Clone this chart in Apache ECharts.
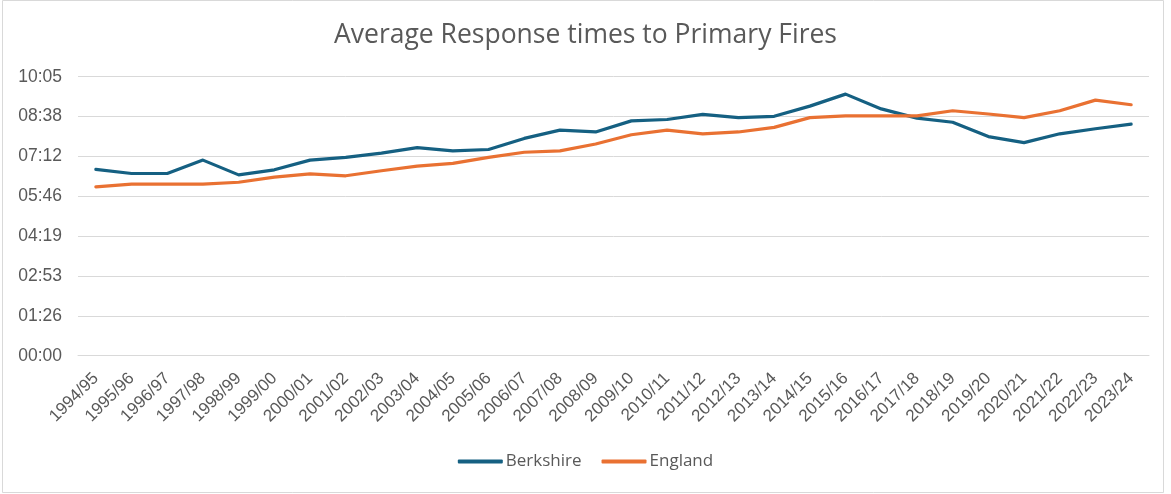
<!DOCTYPE html>
<html>
<head>
<meta charset="utf-8">
<script src="https://cdn.jsdelivr.net/npm/echarts@6/dist/echarts.min.js"></script>
<style>
html,body{margin:0;padding:0;background:#fff;}
#chart{width:1171px;height:494px;}
</style>
</head>
<body>
<div id="chart"></div>
<script>
// Financial years
const categories = ['1994/95','1995/96','1996/97','1997/98','1998/99','1999/00','2000/01','2001/02','2002/03','2003/04','2004/05','2005/06','2006/07','2007/08','2008/09','2009/10','2010/11','2011/12','2012/13','2013/14','2014/15','2015/16','2016/17','2017/18','2018/19','2019/20','2020/21','2021/22','2022/23','2023/24'];
// Average response times, seconds
const berkshire = [404,395,395,424,392,403,424,430,439,451,444,447,471,489,485,509,512,523,516,519,541,567,535,515,506,475,462,481,492,502];
const england = [366,372,372,372,376,387,394,390,401,411,417,430,441,444,459,479,489,481,485,495,516,520,520,520,531,524,516,531,554,544];
// Axis ticks: Excel major unit 0.001 day = 86.4 s
const yMin = 0, yMax = 604.8, yStep = 86.4;

function fmt(v){
  const s = Math.round(v);
  const m = Math.floor(s/60), r = s%60;
  return String(m).padStart(2,'0') + ':' + String(r).padStart(2,'0');
}

const chart = echarts.init(document.getElementById('chart'));
chart.setOption({
  animation:false,
  backgroundColor:'#ffffff',
  title:{
    text:'Average Response times to Primary Fires',
    left:'center', top:17,
    textStyle:{fontFamily:'Open Sans', fontSize:26.5, fontWeight:'normal', color:'#595959'}
  },
  graphic:[{type:'rect', shape:{x:2.5,y:0.5,width:1161,height:492}, style:{fill:'none', stroke:'#d9d9d9', lineWidth:1}, silent:true}],
  legend:{
    bottom:19, left:'center',
    itemWidth:45, itemHeight:4, itemGap:20,
    icon:'roundRect',
    textStyle:{fontFamily:'Open Sans', fontSize:17, color:'#595959', padding:[0,0,0,-2]},
    data:['Berkshire','England']
  },
  grid:{left:78, right:22, top:76.7, bottom:138.3, containLabel:false},
  xAxis:{
    type:'category', data:categories, boundaryGap:true,
    axisLine:{show:true, lineStyle:{color:'#d9d9d9'}},
    axisTick:{show:false},
    axisLabel:{rotate:45, interval:0, margin:20, fontFamily:'Liberation Sans', fontSize:17, color:'#595959'}
  },
  yAxis:{
    type:'value', min:yMin, max:yMax, interval:yStep,
    axisLine:{show:false}, axisTick:{show:false},
    splitLine:{lineStyle:{color:'#d9d9d9', width:1}},
    axisLabel:{formatter:fmt, margin:16, fontFamily:'Liberation Sans', fontSize:17.5, color:'#595959'}
  },
  series:[
    {name:'Berkshire', type:'line', data:berkshire, symbol:'none', lineStyle:{width:3.2, color:'#156082', cap:'round', join:'round'}, itemStyle:{color:'#156082'}},
    {name:'England', type:'line', data:england, symbol:'none', lineStyle:{width:3.2, color:'#E97132', cap:'round', join:'round'}, itemStyle:{color:'#E97132'}}
  ]
});
</script>
</body>
</html>
